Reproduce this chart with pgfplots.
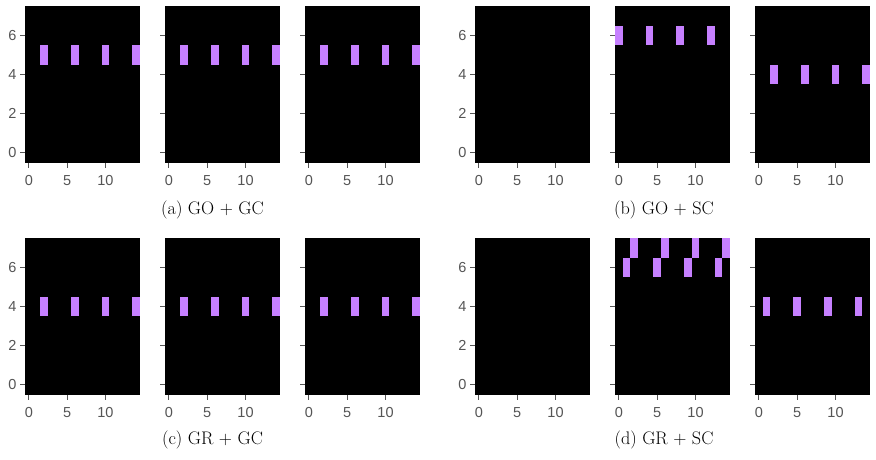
\documentclass[border=0pt]{standalone}
\usepackage{fontspec}
\usepackage{pgfplots}
\pgfplotsset{compat=1.18}

\newfontfamily\ticksfont{Liberation Sans}
\definecolor{cellpurple}{RGB}{198,128,255}
\definecolor{tickgray}{RGB}{85,85,85}

% one grid cell: 115pt / 15 columns by 156.5pt / 8 rows
\pgfdeclareplotmark{cell}{%
  \pgfpathrectangle{\pgfpoint{-3.8333pt}{-9.78125pt}}{\pgfpoint{7.6667pt}{19.5625pt}}%
  \pgfusepathqfill}

\pgfplotsset{
  panel/.style={
    scale only axis, width=115pt, height=156.5pt,
    anchor=south west,
    xmin=-0.5, xmax=14.5, ymin=-0.5, ymax=7.5,
    axis background/.style={fill=black},
    axis line style={draw=none},
    xtick={0,5,10}, ytick={0,2,4,6},
    xtick pos=left, ytick pos=left,
    tick align=outside, major tick length=5pt,
    tick style={tickgray, line width=0.9pt},
    tick label style={font=\ticksfont\fontsize{14.5}{14.5}\selectfont, text=tickgray},
    xticklabel style={yshift=-4pt},
    /pgf/number format/assume math mode=true,
    clip=false,
  },
  inner/.style={yticklabels={}},
  cells/.style={only marks, mark=cell, color=cellpurple},
}

\begin{document}
\begin{tikzpicture}
\useasboundingbox (0,0) rectangle (876pt,459pt);

% ---------- (a) GO + GC ----------
\begin{axis}[panel, at={(25pt,296.3pt)}]
  \addplot[cells] coordinates {(2,5) (6,5) (10,5) (14,5)};
\end{axis}
\begin{axis}[panel, inner, at={(165pt,296.3pt)}]
  \addplot[cells] coordinates {(2,5) (6,5) (10,5) (14,5)};
\end{axis}
\begin{axis}[panel, inner, at={(305pt,296.3pt)}]
  \addplot[cells] coordinates {(2,5) (6,5) (10,5) (14,5)};
\end{axis}

% ---------- (b) GO + SC ----------
\begin{axis}[panel, at={(475pt,296.3pt)}]
\end{axis}
\begin{axis}[panel, inner, at={(615pt,296.3pt)}]
  \addplot[cells] coordinates {(0,6) (4,6) (8,6) (12,6)};
\end{axis}
\begin{axis}[panel, inner, at={(755pt,296.3pt)}]
  \addplot[cells] coordinates {(2,4) (6,4) (10,4) (14,4)};
\end{axis}

% ---------- (c) GR + GC ----------
\begin{axis}[panel, at={(25pt,64.3pt)}]
  \addplot[cells] coordinates {(2,4) (6,4) (10,4) (14,4)};
\end{axis}
\begin{axis}[panel, inner, at={(165pt,64.3pt)}]
  \addplot[cells] coordinates {(2,4) (6,4) (10,4) (14,4)};
\end{axis}
\begin{axis}[panel, inner, at={(305pt,64.3pt)}]
  \addplot[cells] coordinates {(2,4) (6,4) (10,4) (14,4)};
\end{axis}

% ---------- (d) GR + SC ----------
\begin{axis}[panel, at={(475pt,64.3pt)}]
\end{axis}
\begin{axis}[panel, inner, at={(615pt,64.3pt)}]
  \addplot[cells] coordinates {(1,6) (5,6) (9,6) (13,6) (2,7) (6,7) (10,7) (14,7)};
\end{axis}
\begin{axis}[panel, inner, at={(755pt,64.3pt)}]
  \addplot[cells] coordinates {(1,4) (5,4) (9,4) (13,4)};
\end{axis}

% sub-captions
\begin{scope}[every node/.style={font=\fontsize{18.2}{21}\selectfont}]
  \node at (212.5pt,249pt) {(a) GO + GC};
  \node at (664pt,249pt)   {(b) GO + SC};
  \node at (212.5pt,19pt)  {(c) GR + GC};
  \node at (664pt,19pt)    {(d) GR + SC};
\end{scope}
\end{tikzpicture}
\end{document}
